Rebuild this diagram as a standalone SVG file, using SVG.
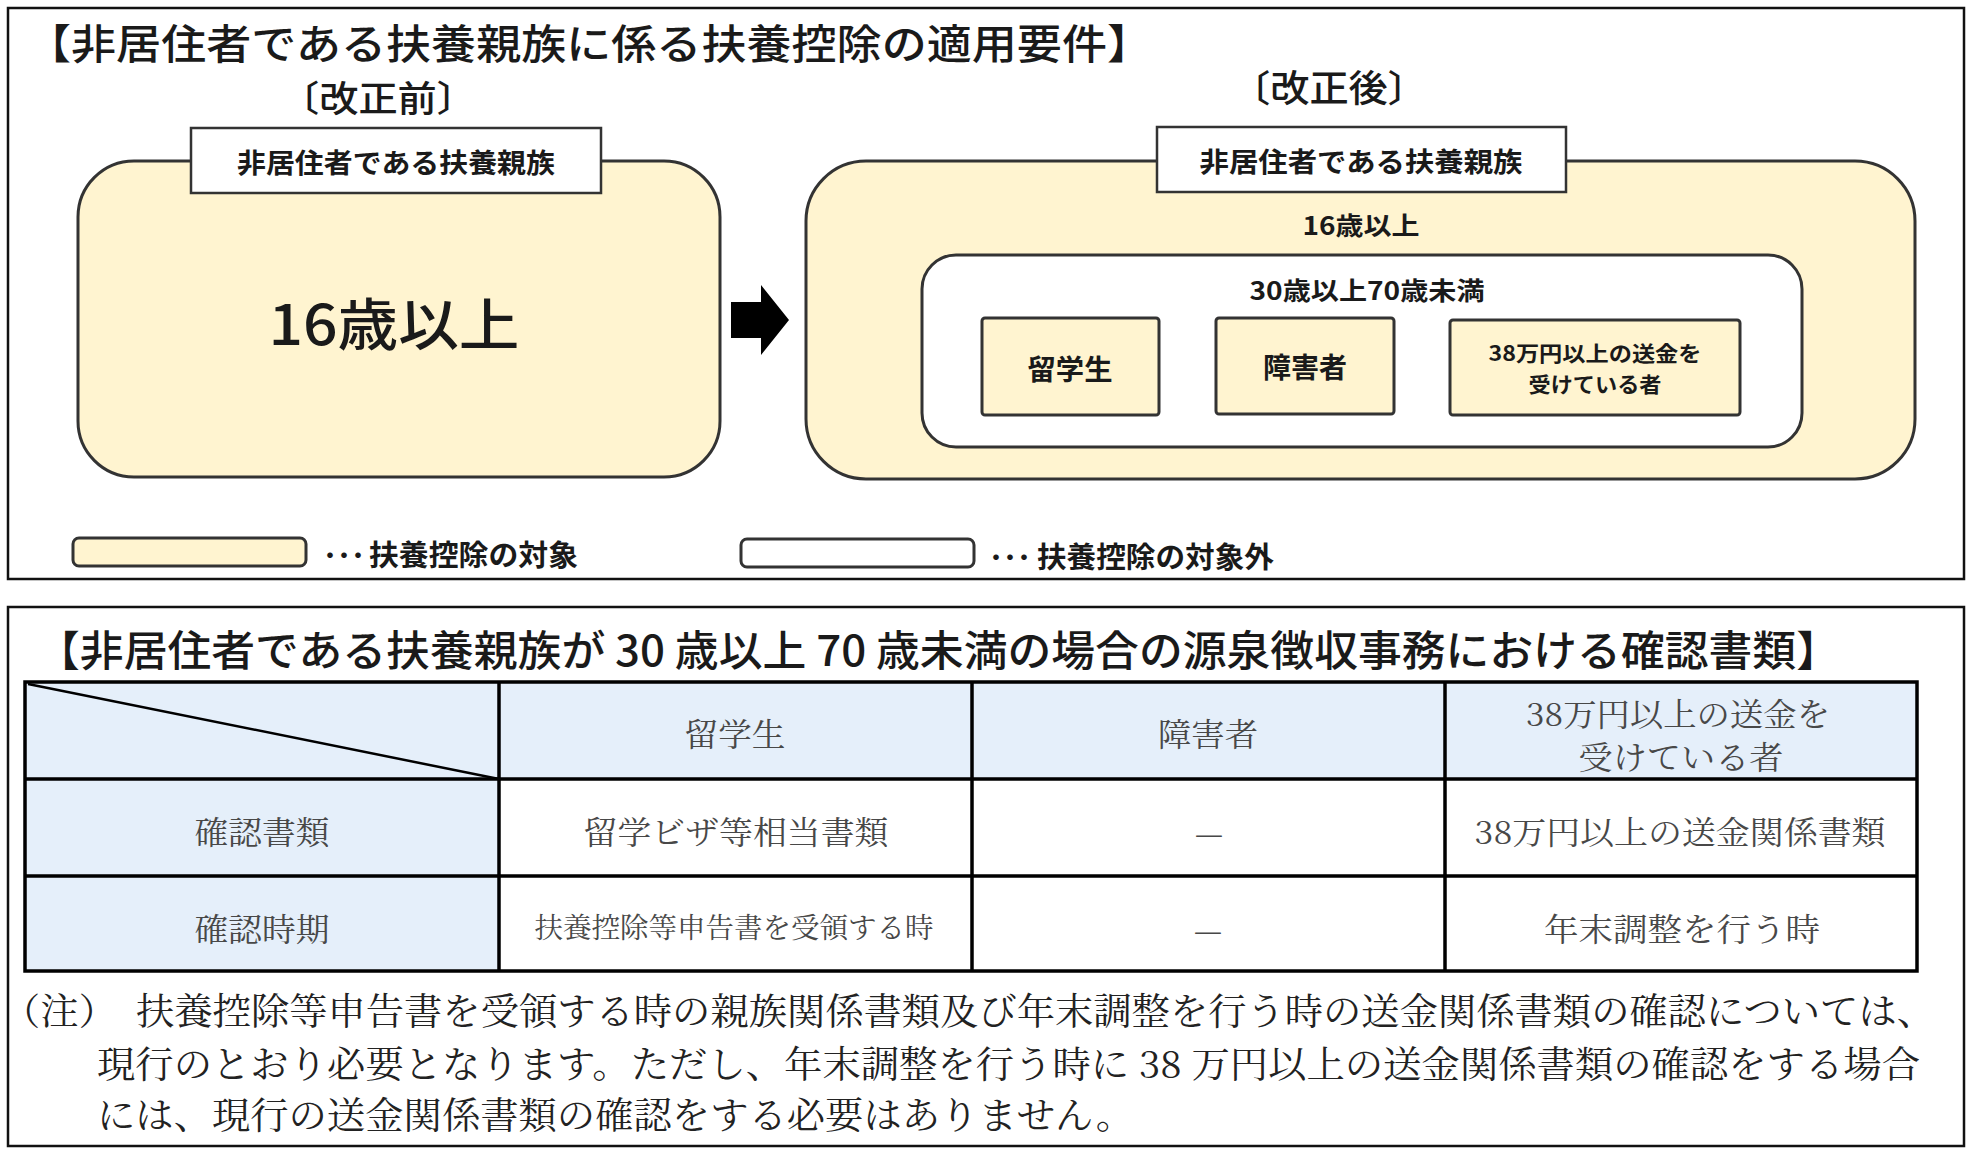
<svg xmlns="http://www.w3.org/2000/svg" width="1970" height="1150" viewBox="0 0 1970 1150">
<style>
text{font-family:"Noto Sans CJK JP","Noto Sans CJK SC",sans-serif;fill:#1a1a1a;dominant-baseline:central}
.mid{text-anchor:middle}
.b{font-weight:bold}
.m{font-weight:500}
.panel{fill:#ffffff;stroke:#111;stroke-width:2.5}
.yel{fill:#FFF4D0;stroke:#333;stroke-width:3}
.wht{fill:#ffffff;stroke:#333;stroke-width:3}
.lbl{fill:#ffffff;stroke:#333;stroke-width:2.5}
.tb{fill:#484848;font-family:"Noto Serif CJK JP","Noto Sans CJK JP",serif}
.nt{fill:#222;font-family:"Noto Serif CJK JP","Noto Sans CJK JP",serif}
.blue{fill:#E5EFFA}
.grid{stroke:#000;stroke-width:3.5;fill:none}
</style>
<rect class="panel" x="8" y="8" width="1956" height="571"/>
<rect class="panel" x="8" y="607" width="1956" height="539"/>

<g id="title1">
<text class="m" x="26" y="41" font-size="41" textLength="1126" lengthAdjust="spacingAndGlyphs">【非居住者である扶養親族に係る扶養控除の適用要件】</text>
</g>
<g id="before-heading"><text class="mid m" x="378" y="96" font-size="36" textLength="196" lengthAdjust="spacingAndGlyphs">〔改正前〕</text></g>
<g id="after-heading"><text class="mid m" x="1329" y="86" font-size="37" textLength="196" lengthAdjust="spacingAndGlyphs">〔改正後〕</text></g>

<g id="before-box">
<rect class="yel" x="78" y="161" width="642" height="316" rx="56" ry="56"/>
<rect class="lbl" x="191" y="128" width="410" height="65"/>
<text class="mid b" x="396" y="161" font-size="27" textLength="318" lengthAdjust="spacingAndGlyphs">非居住者である扶養親族</text>
<text class="mid m" x="394" y="320" font-size="56" textLength="251" lengthAdjust="spacingAndGlyphs">16歳以上</text>
</g>

<g id="connectors">
<path d="M731,302 H761 V285 L789,320 L761,355 V338 H731 Z" fill="#000"/>
</g>

<g id="after-box">
<rect class="yel" x="806" y="161" width="1109" height="318" rx="60" ry="60"/>
<rect class="lbl" x="1157" y="127" width="409" height="65"/>
<text class="mid b" x="1361" y="160" font-size="27" textLength="323" lengthAdjust="spacingAndGlyphs">非居住者である扶養親族</text>
<text class="mid b" x="1361" y="224" font-size="25" textLength="117" lengthAdjust="spacingAndGlyphs">16歳以上</text>
</g>

<g id="age-30-70">
<rect class="wht" x="922" y="255" width="880" height="192" rx="34" ry="34"/>
<text class="mid b" x="1367" y="289" font-size="25" textLength="235" lengthAdjust="spacingAndGlyphs">30歳以上70歳未満</text>
</g>

<g id="student">
<rect class="yel" x="982" y="318" width="177" height="97" rx="3"/>
<text class="mid b" x="1070" y="368" font-size="28" textLength="85" lengthAdjust="spacingAndGlyphs">留学生</text>
</g>
<g id="disabled">
<rect class="yel" x="1216" y="318" width="178" height="96" rx="3"/>
<text class="mid b" x="1305" y="366" font-size="28" textLength="84" lengthAdjust="spacingAndGlyphs">障害者</text>
</g>
<g id="remittance">
<rect class="yel" x="1450" y="320" width="290" height="95" rx="3"/>
<text class="mid b" font-size="21"><tspan x="1595" y="352" textLength="213" lengthAdjust="spacingAndGlyphs">38万円以上の送金を</tspan><tspan x="1595" y="383" textLength="133" lengthAdjust="spacingAndGlyphs">受けている者</tspan></text>
</g>

<g id="legend-target">
<rect class="yel" x="73" y="538" width="233" height="28" rx="6"/>
<text class="b" font-size="29"><tspan font-size="22" x="319 333 347" y="553">・・・</tspan><tspan x="369" y="553" textLength="209" lengthAdjust="spacingAndGlyphs">扶養控除の対象</tspan></text>
</g>
<g id="legend-nontarget">
<rect class="wht" x="741" y="539" width="233" height="28" rx="6"/>
<text class="b" font-size="29"><tspan font-size="22" x="985 999 1013" y="555">・・・</tspan><tspan x="1037" y="555" textLength="237" lengthAdjust="spacingAndGlyphs">扶養控除の対象外</tspan></text>
</g>

<g id="title2">
<text class="m" x="36" y="647" font-size="42" textLength="1804" lengthAdjust="spacingAndGlyphs">【非居住者である扶養親族が 30 歳以上 70 歳未満の場合の源泉徴収事務における確認書類】</text>
</g>

<g id="table">
<rect class="blue" x="25" y="682" width="1892" height="97"/>
<rect class="blue" x="25" y="779" width="474" height="192"/>
<line x1="28" y1="684" x2="499" y2="779" stroke="#000" stroke-width="2.5"/>
<rect class="grid" x="25" y="682" width="1892" height="289" stroke-width="4"/>
<path class="grid" d="M499,682 V971 M972,682 V971 M1445,682 V971 M25,779 H1917 M25,876 H1917"/>
<text class="mid tb" x="735" y="732" font-size="32" textLength="101" lengthAdjust="spacingAndGlyphs">留学生</text>
<text class="mid tb" x="1208" y="732" font-size="32" textLength="100" lengthAdjust="spacingAndGlyphs">障害者</text>
<text class="mid tb" font-size="32"><tspan x="1678" y="712" textLength="304" lengthAdjust="spacingAndGlyphs">38万円以上の送金を</tspan><tspan x="1681" y="755" textLength="205" lengthAdjust="spacingAndGlyphs">受けている者</tspan></text>
<text class="mid tb" x="262" y="830" font-size="32" textLength="135" lengthAdjust="spacingAndGlyphs">確認書類</text>
<text class="mid tb" x="736" y="830" font-size="32" textLength="305" lengthAdjust="spacingAndGlyphs">留学ビザ等相当書類</text>
<text class="mid tb" x="1209" y="831" font-size="32">—</text>
<text class="mid tb" x="1680" y="830" font-size="32" textLength="411" lengthAdjust="spacingAndGlyphs">38万円以上の送金関係書類</text>
<text class="mid tb" x="262" y="927" font-size="32" textLength="135" lengthAdjust="spacingAndGlyphs">確認時期</text>
<text class="mid tb" x="734" y="926" font-size="28" textLength="399" lengthAdjust="spacingAndGlyphs">扶養控除等申告書を受領する時</text>
<text class="mid tb" x="1208" y="928" font-size="32">—</text>
<text class="mid tb" x="1682" y="927" font-size="32" textLength="276" lengthAdjust="spacingAndGlyphs">年末調整を行う時</text>
</g>

<g id="note">
<text class="nt" x="2" y="1009" font-size="37" textLength="1933" lengthAdjust="spacingAndGlyphs">（注）　扶養控除等申告書を受領する時の親族関係書類及び年末調整を行う時の送金関係書類の確認については、</text>
<text class="nt" x="97" y="1062" font-size="37" textLength="1823" lengthAdjust="spacingAndGlyphs">現行のとおり必要となります。ただし、年末調整を行う時に 38 万円以上の送金関係書類の確認をする場合</text>
<text class="nt" x="97" y="1113" font-size="37" textLength="1037" lengthAdjust="spacingAndGlyphs">には、現行の送金関係書類の確認をする必要はありません。</text>
</g>
</svg>
